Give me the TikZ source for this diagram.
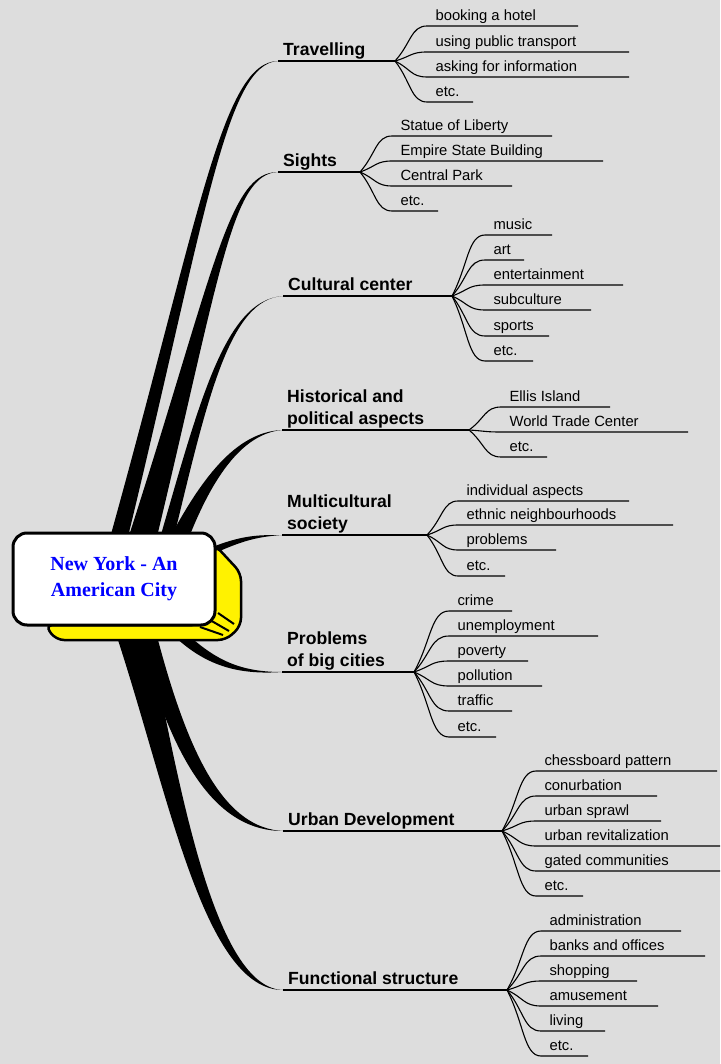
\documentclass[tikz,border=0pt]{standalone}
\usepackage{fontspec}
\setmainfont{Liberation Sans}
\newfontfamily\cityfont{Liberation Serif}
\usetikzlibrary{calc, backgrounds}
\usepackage{xcolor}
\definecolor{paper}{RGB}{221,221,221}
\definecolor{cityblue}{RGB}{0,0,255}

\tikzset{
  topic/.style={anchor=south west, inner xsep=5pt, inner ysep=5pt, text depth=0pt, align=left,
    font=\fontsize{17.6}{22.5}\selectfont\bfseries},
  leaf/.style={anchor=south west, inner xsep=8pt, inner ysep=5pt, text depth=0pt,
    font=\fontsize{14.8}{17}\selectfont},
  limb/.style={line width=1.3pt},
  twig/.style={line width=1.1pt},
  citybox/.style={draw, line width=3pt, rounded corners=14pt, fill=white, minimum width=202pt,
    minimum height=92pt, align=center, text=cityblue, font=\fontsize{20}{26}\selectfont\cityfont\bfseries}
}

\begin{document}
\begin{tikzpicture}[x=1pt, y=-1pt]
        \useasboundingbox (0,0) rectangle (720,1064);

        % Central topic box
        \node[citybox] (city) at (114,579) {New York - An\\American City};

        % Travelling
        \node[topic] (travel) at (278,61) {Travelling};
        \coordinate (travelfork) at (395,61);
        \draw[limb] (travel.south west) -- (travelfork);
        \foreach \nm/\lbl/\yy/\xe in {t1/booking a hotel/26/578, t2/using public transport/52/629,
            t3/asking for information/77/629, t4/etc./102/473}
            \draw[twig] (travelfork) .. controls (411,{(61+\yy)/2}) and (411,\yy) .. (427,\yy)
                node[leaf] (\nm) {\lbl} -- (\xe,\yy);

        % Sights
        \node[topic] (sights) at (278,172) {Sights};
        \coordinate (sightsfork) at (360,172);
        \draw[limb] (sights.south west) -- (sightsfork);
        \foreach \nm/\lbl/\yy/\xe in {s1/Statue of Liberty/136/552, s2/Empire State Building/161/603,
            s3/Central Park/186/512, s4/etc./211/438}
            \draw[twig] (sightsfork) .. controls (376,{(172+\yy)/2}) and (376,\yy) .. (392,\yy)
                node[leaf] (\nm) {\lbl} -- (\xe,\yy);

        % Cultural center
        \node[topic] (culture) at (283,296) {Cultural center};
        \coordinate (culturefork) at (452,296);
        \draw[limb] (culture.south west) -- (culturefork);
        \foreach \nm/\lbl/\yy/\xe in {c1/music/235/552, c2/art/260/524, c3/entertainment/285/623,
            c4/subculture/310/591, c5/sports/336/549, c6/etc./361/533}
            \draw[twig] (culturefork) .. controls (468,{(296+\yy)/2}) and (468,\yy) .. (485,\yy)
                node[leaf] (\nm) {\lbl} -- (\xe,\yy);

        % Historical and political aspects
        \node[topic] (history) at (282,430) {Historical and\\political aspects};
        \coordinate (historyfork) at (469,430);
        \draw[limb] (history.south west) -- (historyfork);
        \foreach \nm/\lbl/\yy/\xe in {h1/Ellis Island/407/610, h2/World Trade Center/432/688,
            h3/etc./457/547}
            \draw[twig] (historyfork) .. controls (485,{(430+\yy)/2}) and (485,\yy) .. (501,\yy)
                node[leaf] (\nm) {\lbl} -- (\xe,\yy);

        % Multicultural society
        \node[topic] (multi) at (282,535) {Multicultural\\society};
        \coordinate (multifork) at (427,535);
        \draw[limb] (multi.south west) -- (multifork);
        \foreach \nm/\lbl/\yy/\xe in {m1/individual aspects/501/629, m2/ethnic neighbourhoods/525/673,
            m3/problems/550/556, m4/etc./576/505}
            \draw[twig] (multifork) .. controls (443,{(535+\yy)/2}) and (443,\yy) .. (458,\yy)
                node[leaf] (\nm) {\lbl} -- (\xe,\yy);

        % Problems of big cities
        \node[topic] (problems) at (282,672) {Problems\\of big cities};
        \coordinate (problemsfork) at (414,672);
        \draw[limb] (problems.south west) -- (problemsfork);
        \foreach \nm/\lbl/\yy/\xe in {p1/crime/611/512, p2/unemployment/636/598, p3/poverty/661/528,
            p4/pollution/686/542, p5/traffic/711/512, p6/etc./737/496}
            \draw[twig] (problemsfork) .. controls (431,{(672+\yy)/2}) and (431,\yy) .. (449,\yy)
                node[leaf] (\nm) {\lbl} -- (\xe,\yy);

        % Urban Development
        \node[topic] (urban) at (283,831) {Urban Development};
        \coordinate (urbanfork) at (502,831);
        \draw[limb] (urban.south west) -- (urbanfork);
        \foreach \nm/\lbl/\yy/\xe in {u1/chessboard pattern/771/717, u2/conurbation/796/657,
            u3/urban sprawl/821/661, u4/urban revitalization/846/720, u5/gated communities/871/720,
            u6/etc./896/583}
            \draw[twig] (urbanfork) .. controls (519,{(831+\yy)/2}) and (519,\yy) .. (536,\yy)
                node[leaf] (\nm) {\lbl} -- (\xe,\yy);

        % Functional structure
        \node[topic] (function) at (283,990) {Functional structure};
        \coordinate (functionfork) at (507,990);
        \draw[limb] (function.south west) -- (functionfork);
        \foreach \nm/\lbl/\yy/\xe in {f1/administration/931/681, f2/banks and offices/956/705,
            f3/shopping/981/637, f4/amusement/1006/658, f5/living/1031/605, f6/etc./1056/588}
            \draw[twig] (functionfork) .. controls (524,{(990+\yy)/2}) and (524,\yy) .. (541,\yy)
                node[leaf] (\nm) {\lbl} -- (\xe,\yy);

        % Hatching at the lower right corner of the box
        \draw[line width=2pt] (218,613) -- (234,624);
        \draw[line width=2pt] (210,620) -- (229,631);
        \draw[line width=2pt] (200,627) -- (223,635);

        \begin{pgfonlayer}{background}
            \fill[paper] (0,0) rectangle (720,1064);

            % Tapered branches from the central box
            \fill (108,545) .. controls (200,215) and (222,62) .. (travel.south west)
                .. controls (226,64) and (206,215) .. (126,545) -- cycle;
            \fill (126,545) .. controls (215,270) and (228,172) .. (sights.south west)
                .. controls (232,174) and (221,270) .. (155,545) -- cycle;
            \fill (158,545) .. controls (200,400) and (225,300) .. (culture.south west)
                .. controls (229,299) and (207,400) .. (172,545) -- cycle;
            \fill (166,545) .. controls (200,480) and (235,432) .. (history.south west)
                .. controls (240,434) and (210,482) .. (186,545) -- cycle;
            \fill (200,552) .. controls (240,535) and (255,535) .. (multi.south west)
                .. controls (255,537) and (240,541) .. (200,560) -- cycle;
            \fill (185,632) .. controls (215,660) and (240,672) .. (problems.south west)
                .. controls (238,675) and (205,666) .. (172,634) -- cycle;
            \fill (140,640) .. controls (175,770) and (220,831) .. (urban.south west)
                .. controls (226,828) and (190,760) .. (158,640) -- cycle;
            \fill (118,640) .. controls (170,800) and (205,990) .. (function.south west)
                .. controls (215,988) and (180,790) .. (150,640) -- cycle;

            % Yellow side of the box
            \filldraw[fill=yellow, line width=2.5pt, rounded corners=8pt] (45,625) -- (56,640)
                -- (226,640) -- (241,626) -- (241,573) -- (215,545) -- (200,625) -- cycle;
        \end{pgfonlayer}

    \end{tikzpicture}
\end{document}
